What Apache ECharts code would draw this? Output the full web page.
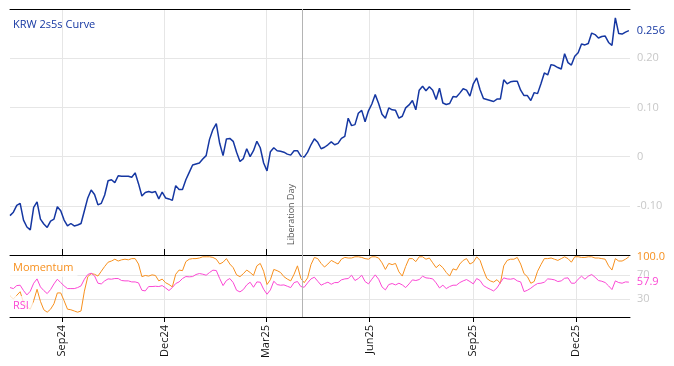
<!DOCTYPE html>
<html>
<head>
<meta charset="utf-8">
<script src="https://cdn.jsdelivr.net/npm/echarts@6/dist/echarts.min.js"></script>
<style>
html,body{margin:0;padding:0;background:#fff;}
#c{width:674px;height:366px;}
</style>
</head>
<body>
<div id="c"></div>
<script>
// ---- data ----
const startDate = '2024-07-17';   // first observation
const stepDays = 3;               // spacing of observations (calendar days)
const endDate = '2026-01-18';     // axis end
const eventDate = '2025-04-02';
const eventName = 'Liberation Day';
const tickDates = ['2024-09-01','2024-12-01','2025-03-01','2025-06-01','2025-09-01','2025-12-01'];
const tickLabels = ['Sep24','Dec24','Mar25','Jun25','Sep25','Dec25'];

const curve = [
-0.120,-0.113,-0.099,-0.095,-0.129,-0.143,-0.149,-0.103,-0.092,-0.127,
-0.137,-0.144,-0.131,-0.127,-0.102,-0.110,-0.129,-0.141,-0.136,-0.141,
-0.139,-0.136,-0.110,-0.084,-0.068,-0.077,-0.098,-0.095,-0.078,-0.049,
-0.047,-0.053,-0.039,-0.040,-0.040,-0.040,-0.042,-0.033,-0.055,-0.080,
-0.073,-0.071,-0.073,-0.071,-0.086,-0.072,-0.084,-0.086,-0.089,-0.059,
-0.067,-0.067,-0.047,-0.032,-0.017,-0.015,-0.013,-0.005,0.002,0.035,
0.055,0.067,0.027,0.002,0.036,0.037,0.031,0.009,-0.010,-0.004,
0.016,0.000,0.012,0.031,0.018,-0.013,-0.029,0.010,0.018,0.012,
0.011,0.009,0.005,0.003,0.012,0.012,0.001,-0.001,0.009,0.024,
0.036,0.029,0.016,0.019,0.024,0.030,0.024,0.027,0.037,0.041,
0.078,0.063,0.065,0.088,0.094,0.071,0.093,0.107,0.126,0.108,
0.086,0.078,0.099,0.095,0.094,0.078,0.082,0.099,0.105,0.114,
0.095,0.135,0.143,0.134,0.142,0.135,0.116,0.139,0.109,0.106,
0.108,0.122,0.121,0.129,0.138,0.135,0.123,0.148,0.160,0.136,
0.118,0.116,0.114,0.112,0.117,0.117,0.156,0.148,0.152,0.153,
0.153,0.135,0.124,0.124,0.114,0.130,0.128,0.148,0.170,0.166,
0.187,0.185,0.181,0.178,0.209,0.191,0.186,0.204,0.211,0.229,
0.227,0.230,0.251,0.248,0.241,0.244,0.245,0.232,0.226,0.282,
0.250,0.249,0.253,0.256
];

const momentum = [
35,30,36,42,24,17,13,27,46,26,
12,8,13,22,40,40,27,13,12,10,
8,10,43,67,72,71,68,76,84,91,
93,96,93,95,96,95,97,97,88,67,
69,68,70,69,60,63,57,54,50,71,
78,77,92,96,97,97,98,100,100,100,
99,96,88,91,97,88,82,70,67,72,
78,74,69,85,89,76,54,62,79,77,
74,67,63,60,71,85,64,57,65,87,
99,97,89,83,88,94,91,88,96,99,
98,98,100,100,99,97,96,100,100,98,
90,79,89,87,89,75,68,84,97,97,
92,100,100,96,98,90,82,87,82,74,
68,80,78,88,94,97,88,91,100,94,
78,64,60,58,62,56,85,94,96,96,
99,88,72,67,56,59,76,87,97,97,
98,96,94,97,100,97,91,100,100,99,
99,100,100,98,98,97,96,85,78,97,
93,93,96,100
];

const rsi = [
48.9,47.2,52.2,52.8,43.9,36.7,42.8,56.1,63.3,50.0,
43.9,38.9,45.6,55.0,62.8,57.2,51.7,47.2,47.2,47.2,
48.9,51.7,62.8,70.6,72.8,68.3,56.1,55.0,60.0,63.3,
62.8,63.9,63.9,60.6,60.0,60.0,58.3,58.3,56.7,44.4,
43.3,50.6,50.6,51.1,50.6,52.2,48.3,43.9,48.9,55.6,
58.3,63.9,67.2,66.7,67.2,70.6,72.2,71.1,69.4,73.9,
77.8,77.2,63.9,52.2,60.6,63.9,57.2,44.4,41.7,45.6,
53.3,57.8,49.4,58.3,57.8,46.1,37.8,45.0,59.4,53.9,
52.8,53.3,51.1,48.9,57.2,58.9,50.6,49.4,56.7,63.3,
66.1,59.4,52.8,55.6,57.8,54.4,57.2,57.2,61.7,63.3,
63.9,69.4,60.6,63.9,69.4,58.9,55.0,62.8,70.0,62.8,
50.0,45.0,53.9,55.6,53.3,56.1,53.3,48.9,55.0,61.7,
60.6,62.2,67.8,65.0,64.4,63.3,56.7,48.3,52.8,47.2,
50.6,52.8,52.8,57.2,60.0,62.2,58.9,55.0,63.9,60.6,
52.2,48.9,46.1,43.3,48.3,57.2,65.0,63.3,62.8,63.9,
60.0,58.3,42.2,44.4,47.8,52.2,55.6,56.1,57.8,63.3,
62.8,61.7,58.9,60.0,64.4,65.0,56.1,56.1,62.8,67.8,
62.8,67.8,70.6,66.1,60.6,59.4,57.2,51.7,45.6,60.0,
57.2,56.1,58.3,57.9
];

// ---- build ----
const DAY = 86400000;
const ts = s => { const p = s.split('-').map(Number); return Date.UTC(p[0], p[1]-1, p[2]); };
const t0 = ts(startDate);
const dates = curve.map((_, i) => t0 + i * stepDays * DAY);
const pairs = arr => arr.map((v, i) => [dates[i], v]);
const tickTs = tickDates.map(ts);
const xMin = t0, xMax = ts(endDate), evTs = ts(eventDate);

const FONT = 'Open Sans';
const BLUE = '#1537a2', ORANGE = '#f7901e', PINK = '#fb48d4';
const GRID = '#e6e6e6', LABEL = '#c8c8c8';

const chart = echarts.init(document.getElementById('c'), null, {renderer: 'canvas'});
chart.setOption({
  animation: false,
  textStyle: {fontFamily: FONT},
  title: [
    {text: 'KRW 2s5s Curve', left: 9, top: 15, padding: 4,
     textStyle: {color: BLUE, fontSize: 11, fontWeight: 'normal', fontFamily: FONT}},
    {text: 'Momentum', left: 9, top: 258, padding: 4, backgroundColor: 'rgba(255,255,255,0.7)',
     textStyle: {color: ORANGE, fontSize: 11, fontWeight: 'normal', fontFamily: FONT}},
    {text: 'RSI', left: 9, top: 296, padding: 4, backgroundColor: 'rgba(255,255,255,0.75)',
     textStyle: {color: PINK, fontSize: 11, fontWeight: 'normal', fontFamily: FONT}}
  ],
  grid: [
    {left: 10, right: 44, top: 9, height: 246},
    {left: 10, right: 44, top: 255, height: 62}
  ],
  xAxis: [
    {gridIndex: 0, type: 'value', min: xMin, max: xMax, position: 'bottom',
     axisLine: {show: true, onZero: false, lineStyle: {color: '#000', width: 1}},
     axisTick: {show: true, inside: true, length: 6, customValues: tickTs, lineStyle: {color: '#000'}},
     axisLabel: {show: false},
     splitLine: {show: true, lineStyle: {color: GRID, width: 1}}},
    {gridIndex: 0, type: 'value', min: xMin, max: xMax, position: 'top',
     axisLine: {show: true, onZero: false, lineStyle: {color: '#000', width: 1}},
     axisTick: {show: false}, axisLabel: {show: false}, splitLine: {show: false}},
    {gridIndex: 1, type: 'value', min: xMin, max: xMax, position: 'bottom',
     axisLine: {show: true, onZero: false, lineStyle: {color: '#000', width: 1}},
     axisTick: {show: true, length: 5, customValues: tickTs, lineStyle: {color: '#000'}},
     axisLabel: {show: true, customValues: tickTs, rotate: 90, margin: 8, fontSize: 11, color: '#111', fontFamily: FONT,
       formatter: v => { const k = tickTs.indexOf(v); return k >= 0 ? tickLabels[k] : ''; }},
     splitLine: {show: true, lineStyle: {color: GRID, width: 1}}}
  ],
  yAxis: [
    {gridIndex: 0, type: 'value', position: 'right', min: -0.2, max: 0.3, interval: 0.1,
     axisLine: {show: false, onZero: false}, axisTick: {show: false},
     axisLabel: {color: LABEL, fontSize: 11, margin: 7, fontFamily: FONT, showMinLabel: false, showMaxLabel: false,
       formatter: v => Math.abs(v) < 1e-9 ? '0' : v.toFixed(2)},
     splitLine: {show: true, lineStyle: {color: GRID, width: 1}}},
    {gridIndex: 1, type: 'value', position: 'right', min: 0, max: 103,
     axisLine: {show: false, onZero: false}, axisTick: {show: false, customValues: [30, 70]},
     axisLabel: {color: LABEL, fontSize: 11, margin: 7, fontFamily: FONT, customValues: [30, 70]},
     splitLine: {show: true, lineStyle: {color: GRID, width: 1}}}
  ],
  series: [
    {name: 'KRW 2s5s Curve', type: 'line', xAxisIndex: 0, yAxisIndex: 0, data: pairs(curve),
     showSymbol: false, symbol: 'none', lineStyle: {color: BLUE, width: 1.5}, itemStyle: {color: BLUE},
     z: 3,
     endLabel: {show: true, distance: 8, color: BLUE, fontSize: 11, fontFamily: FONT,
       formatter: p => p.value[1].toFixed(3)},
     markLine: {silent: true, symbol: 'none', animation: false,
       lineStyle: {color: '#b4b4b4', type: 'solid', width: 1},
       label: {show: true, position: 'insideStartTop', formatter: eventName, color: '#555', fontSize: 9, fontFamily: FONT, distance: [10, 6]},
       data: [{xAxis: evTs}]}},
    {name: 'Momentum', type: 'line', xAxisIndex: 2, yAxisIndex: 1, data: pairs(momentum),
     showSymbol: false, symbol: 'none', lineStyle: {color: ORANGE, width: 1}, itemStyle: {color: ORANGE},
     endLabel: {show: true, distance: 8, color: ORANGE, fontSize: 11, fontFamily: FONT, backgroundColor: '#fff',
       formatter: p => p.value[1].toFixed(1)}},
    {name: 'RSI', type: 'line', xAxisIndex: 2, yAxisIndex: 1, data: pairs(rsi),
     showSymbol: false, symbol: 'none', lineStyle: {color: PINK, width: 1}, itemStyle: {color: PINK},
     endLabel: {show: true, distance: 8, color: PINK, fontSize: 11, fontFamily: FONT, backgroundColor: '#fff',
       formatter: p => p.value[1].toFixed(1)},
     markLine: {silent: true, symbol: 'none', animation: false,
       lineStyle: {color: '#b4b4b4', type: 'solid', width: 1},
       label: {show: false}, data: [{xAxis: evTs}]}}
  ]
});
</script>
</body>
</html>
